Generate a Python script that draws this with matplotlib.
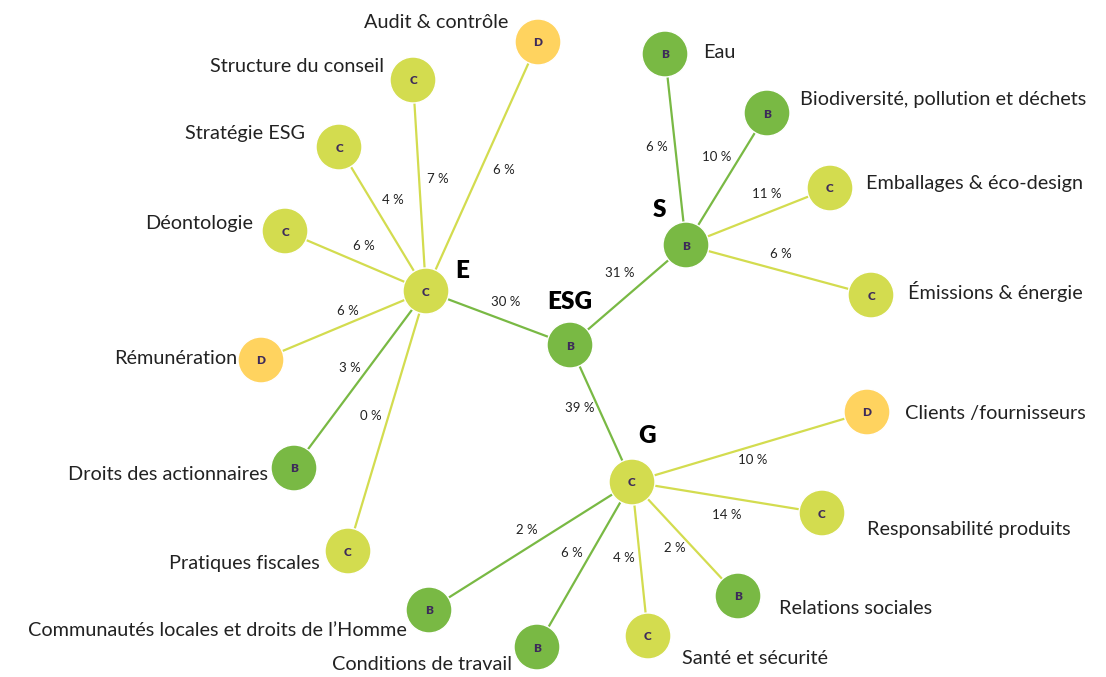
import matplotlib
matplotlib.use("Agg")
from matplotlib import pyplot as plt
from matplotlib.patches import Circle

plt.rcParams['font.family'] = ['Lato', 'DejaVu Sans']

# donnees
piliers = ['E', 'S', 'G']
pilier_notes = ['C', 'B', 'C']
pilier_poids = ['30 %', '31 %', '39 %']

e_noms = ['Audit & contrôle', 'Structure du conseil', 'Stratégie ESG', 'Déontologie',
          'Rémunération', 'Droits des actionnaires', 'Pratiques fiscales']
e_notes = ['D', 'C', 'C', 'C', 'D', 'B', 'C']
e_poids = ['6 %', '7 %', '4 %', '6 %', '6 %', '3 %', '0 %']
e_liens = ['y', 'y', 'y', 'y', 'y', 'g', 'y']

s_noms = ['Eau', 'Biodiversité, pollution et déchets', 'Emballages & éco-design', 'Émissions & énergie']
s_notes = ['B', 'B', 'C', 'C']
s_poids = ['6 %', '10 %', '11 %', '6 %']
s_liens = ['g', 'g', 'y', 'y']

g_noms = ['Clients /fournisseurs', 'Responsabilité produits', 'Relations sociales',
          'Santé et sécurité', 'Conditions de travail', 'Communautés locales et droits de l\u2019Homme']
g_notes = ['D', 'C', 'B', 'C', 'B', 'B']
g_poids = ['10 %', '14 %', '2 %', '4 %', '6 %', '2 %']
g_liens = ['y', 'y', 'y', 'y', 'g', 'g']

# mise en page (pixels)
centre = (570, 345)
pilier_pos = [(426, 291), (686, 245), (632, 482)]
pilier_txt = [(462, 271), (659, 210), (647, 436)]
pilier_pct = [(506, 302), (620, 273), (580, 408)]

e_pos = [(538, 42), (413, 80), (339, 147), (285, 231), (261, 360), (294, 468), (348, 551)]
e_lab = [(508, 22), (384, 66), (305, 133), (253, 224), (237, 358), (268, 475), (320, 563)]
e_pct = [(504, 170), (438, 179), (393, 200), (364, 246), (348, 311), (350, 368), (371, 416)]

s_pos = [(665, 54), (767, 113), (830, 188), (871, 295)]
s_lab = [(703, 52), (800, 99), (866, 184), (908, 292)]
s_pct = [(657, 147), (717, 157), (767, 194), (781, 254)]

g_pos = [(867, 412), (822, 513), (738, 596), (648, 636), (537, 647), (429, 610)]
g_lab = [(905, 414), (867, 529), (779, 608), (682, 659), (512, 664), (407, 630)]
g_pct = [(753, 460), (727, 515), (675, 548), (624, 558), (572, 553), (527, 530)]
g_align = ['left', 'left', 'left', 'left', 'right', 'right']

couleurs = {'B': '#79b944', 'C': '#d3dc4f', 'D': '#ffd35f'}
liens = {'g': '#79b944', 'y': '#d3dc4f'}
R = 23

fig = plt.figure(figsize=(11.06, 6.77), dpi=100)
ax = fig.add_axes([0, 0, 1, 1])
ax.set_xlim(0, 1106)
ax.set_ylim(677, 0)
ax.axis('off')


def noeud(pos, note):
    ax.add_patch(Circle(pos, R, facecolor=couleurs[note], edgecolor='white', lw=1, zorder=3))
    ax.text(pos[0], pos[1] + 1, note, ha='center', va='center', fontsize=8.5,
            fontweight='heavy', color='#3d2a5a', zorder=4)


def lien(a, b, c):
    ax.plot([a[0], b[0]], [a[1], b[1]], color=liens[c], lw=1.6, zorder=1)


for i in range(3):
    lien(centre, pilier_pos[i], 'g')
    ax.text(*pilier_pct[i], pilier_poids[i], ha='center', va='center', fontsize=9.5, color='#222222')

groupes = [
    (e_noms, e_notes, e_poids, e_liens, e_pos, e_lab, e_pct, ['right'] * 7),
    (s_noms, s_notes, s_poids, s_liens, s_pos, s_lab, s_pct, ['left'] * 4),
    (g_noms, g_notes, g_poids, g_liens, g_pos, g_lab, g_pct, g_align),
]
for k, (noms, notes, poids, lns, pos, lab, pct, al) in enumerate(groupes):
    for i in range(len(noms)):
        lien(pilier_pos[k], pos[i], lns[i])
        noeud(pos[i], notes[i])
        ax.text(*lab[i], noms[i], ha=al[i], va='center', fontsize=14.3, color='#222222')
        ax.text(*pct[i], poids[i], ha='center', va='center', fontsize=9.5, color='#222222')

for i in range(3):
    noeud(pilier_pos[i], pilier_notes[i])
    ax.text(*pilier_txt[i], piliers[i], ha='center', va='center', fontsize=17.5,
            fontweight='heavy', color='black')

noeud(centre, 'B')
ax.text(570, 302, 'ESG', ha='center', va='center', fontsize=17.5, fontweight='heavy', color='black')

fig.savefig('out.png', dpi=100)
